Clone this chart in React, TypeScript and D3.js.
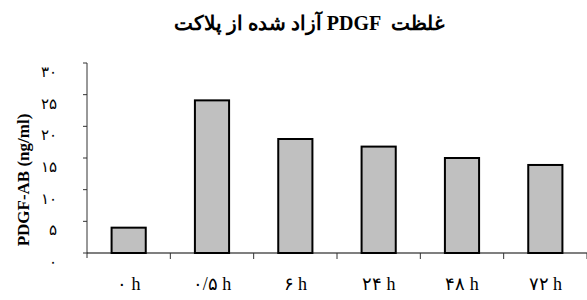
import React from 'react';
import * as d3 from 'd3';

// Persian labels as in the source figure
const categories = ['۰ h', '۰/۵ h', '۶ h', '۲۴ h', '۴۸ h', '۷۲ h'];
const values = [4.0, 24.1, 18.0, 16.8, 15.0, 13.9];
const yTicks = [0, 5, 10, 15, 20, 25, 30];
const yTickLabels = ['۰', '۵', '۱۰', '۱۵', '۲۰', '۲۵', '۳۰'];

const title = 'غلظت  PDGF آزاد شده از پلاکت';
const yTitle = 'PDGF-AB (ng/ml)';

const W = 587;
const H = 300;
const margin = { top: 63, right: 0, bottom: 47, left: 87 };
const serif = '"Liberation Serif", "Times New Roman", "DejaVu Serif", serif';

const App: React.FC = () => {
    const innerW = W - margin.left - margin.right;
    const innerH = H - margin.top - margin.bottom;

    const x = d3.scaleBand<string>()
        .domain(categories)
        .range([0, innerW])
        .paddingInner(0.59)
        .paddingOuter(0.295);

    const y = d3.scaleLinear()
        .domain([0, 30])
        .range([innerH, 0]);

    const step = x.step();

    return (
        <svg width={W} height={H} style={{ position: 'absolute', left: 0, top: 0, background: '#fff' }}>
            <text
                x={309}
                y={30}
                textAnchor="middle"
                fontFamily={serif}
                fontWeight="bold"
                fontSize={20}
                direction="rtl"
                style={{ whiteSpace: 'pre' }}
            >
                {title}
            </text>

            <text
                transform={`translate(23, 180) rotate(-90)`}
                textAnchor="middle"
                dominantBaseline="central"
                fontFamily={serif}
                fontWeight="bold"
                fontSize={17}
            >
                {yTitle}
            </text>

            <g transform={`translate(${margin.left}, ${margin.top})`}>
                {/* bars */}
                {values.map((v, i) => (
                    <rect
                        key={categories[i]}
                        x={x(categories[i])}
                        y={y(v)}
                        width={x.bandwidth()}
                        height={innerH - y(v)}
                        fill="#c0c0c0"
                        stroke="#000"
                        strokeWidth={2}
                    />
                ))}

                {/* y axis */}
                <line x1={0} x2={0} y1={0} y2={innerH + 5} stroke="#333" strokeWidth={1} />
                {yTicks.map((t, i) => (
                    <g key={t}>
                        <line x1={-4} x2={0} y1={y(t)} y2={y(t)} stroke="#333" strokeWidth={1} />
                        <text
                            x={-30}
                            y={y(t) + 9}
                            textAnchor="end"
                            dominantBaseline="central"
                            fontFamily={serif}
                            fontSize={15}
                        >
                            {yTickLabels[i]}
                        </text>
                    </g>
                ))}

                {/* x axis */}
                <line x1={0} x2={innerW} y1={innerH} y2={innerH} stroke="#000" strokeWidth={1.2} />
                {categories.map((c, i) => (
                    <g key={c}>
                        <line
                            x1={step * (i + 1)}
                            x2={step * (i + 1)}
                            y1={innerH}
                            y2={innerH + 6}
                            stroke="#333"
                            strokeWidth={1}
                        />
                        <text
                            x={(x(c) ?? 0) + x.bandwidth() / 2}
                            y={innerH + 37}
                            textAnchor="middle"
                            fontFamily={serif}
                            fontSize={18}
                            style={{ whiteSpace: 'pre' }}
                        >
                            {c}
                        </text>
                    </g>
                ))}
            </g>
        </svg>
    );
};

export default App;
